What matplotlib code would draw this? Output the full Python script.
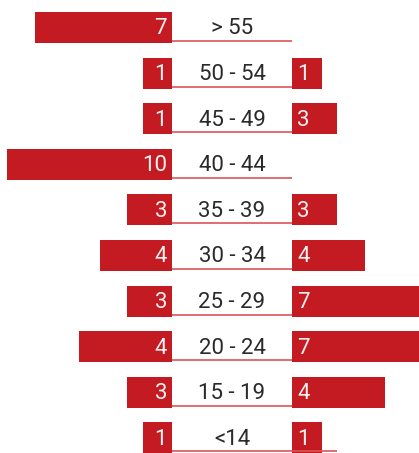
import matplotlib
matplotlib.use("Agg")
import matplotlib.pyplot as plt

# ---- data ----
age_groups = ["> 55", "50 - 54", "45 - 49", "40 - 44", "35 - 39",
              "30 - 34", "25 - 29", "20 - 24", "15 - 19", "<14"]
left_counts = [7, 1, 1, 10, 3, 4, 3, 4, 3, 1]
right_counts = [None, 1, 3, None, 3, 4, 7, 7, 4, 1]
# displayed bar lengths (relative units)
left_len = [8.3, 1.76, 1.76, 10.0, 2.73, 4.36, 2.73, 5.64, 2.73, 1.76]
right_len = [0, 1.8, 2.73, 0, 2.73, 4.42, 8.3, 8.3, 5.64, 1.8]

RED = "#C41A21"
LINE = "#D9545A"
W, H = 419, 453
fig = plt.figure(figsize=(W / 100, H / 100), dpi=100)
ax = fig.add_axes([0, 0, 1, 1])
ax.set_xlim(0, W)
pitch = 45.6
ax.set_ylim((H - 27.5) / pitch, -27.5 / pitch)
ax.axis("off")

scale = 16.5
left_edge, right_edge = 172, 292
n = len(age_groups)
ys = list(range(n))
bh = 31 / pitch

ax.barh(ys, [v * scale for v in left_len], left=[left_edge - v * scale for v in left_len],
        height=bh, color=RED, linewidth=0)
ax.barh(ys, [v * scale for v in right_len], left=right_edge,
        height=bh, color=RED, linewidth=0)

font = dict(family=["Roboto", "DejaVu Sans"], fontweight="normal", fontsize=16)
for i, y in enumerate(ys):
    ax.text(left_edge - 5, y + 0.03, str(left_counts[i]), ha="right", va="center",
            color="#f6f0f0", **font)
    if right_counts[i] is not None:
        ax.text(right_edge + 5, y + 0.03, str(right_counts[i]), ha="left", va="center",
                color="#f6f0f0", **font)
    ax.text((left_edge + right_edge) / 2, y + 0.03, age_groups[i], ha="center", va="center",
            color="#2a2a2a", **font)
    x_end = right_edge + 45 if i == n - 1 else right_edge
    ax.hlines(y + 13.5 / pitch, left_edge, x_end, color=LINE, linewidth=1.2)

fig.savefig("out.png", dpi=100)
